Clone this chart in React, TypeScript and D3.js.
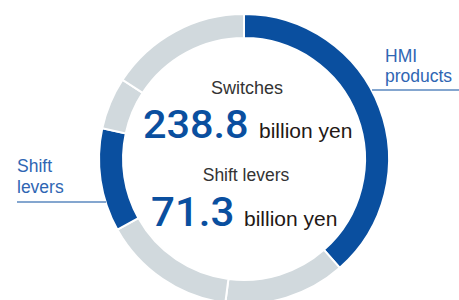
import * as d3 from "d3";

// segments clockwise from 12 o'clock
const segments = ["HMI products", "Other A", "Other B", "Shift levers", "Other C", "Other D"];
const values = [238.8, 84, 92, 71.3, 36, 98];
const highlighted = ["HMI products", "Shift levers"];

const centerTitles = ["Switches", "Shift levers"];
const centerValues = ["238.8", "71.3"];
const unit = "billion yen";

const BLUE = "#0a4f9f";
const GRAY = "#d1d9dd";
const LABEL_BLUE = "#2f66b3";
const FONT = "'Liberation Sans', Arial, Helvetica, sans-serif";
const NUM_FONT = "Roboto, 'Liberation Sans', Arial, sans-serif";

export default function App() {
  const width = 459;
  const height = 300;
  const cx = 244;
  const cy = 159;
  const outerR = 145;
  const innerR = 121;

  const pie = d3
    .pie<number>()
    .sort(null)
    .value((d) => d);
  const arcs = pie(values);
  const arc = d3
    .arc<d3.PieArcDatum<number>>()
    .innerRadius(innerR)
    .outerRadius(outerR);

  return (
    <svg
      width={width}
      height={height}
      style={{ position: "absolute", left: 0, top: 0, background: "#fff" }}
      fontFamily={FONT}
    >
      <g transform={`translate(${cx}, ${cy})`}>
        {arcs.map((a, i) => (
          <path
            key={segments[i]}
            d={arc(a) as string}
            fill={highlighted.includes(segments[i]) ? BLUE : GRAY}
            stroke="#fff"
            strokeWidth={2}
          />
        ))}
      </g>

      {/* leader lines */}
      <line x1={372} y1={90} x2={459} y2={90} stroke={BLUE} strokeWidth={1.2} />
      <line x1={17} y1={202} x2={106} y2={202} stroke={BLUE} strokeWidth={1.2} />

      {/* outside labels */}
      <text x={385} y={62} fontSize={17.5} fill={LABEL_BLUE}>HMI</text>
      <text x={385} y={82} fontSize={17.5} fill={LABEL_BLUE}>products</text>
      <text x={17} y={172} fontSize={17.5} fill={LABEL_BLUE}>Shift</text>
      <text x={17} y={193} fontSize={17.5} fill={LABEL_BLUE}>levers</text>

      {/* center texts */}
      <text x={247} y={94} fontSize={18} fill="#333" textAnchor="middle">
        {centerTitles[0]}
      </text>
      <text
        transform="translate(143, 138) scale(1.09, 1)"
        fontSize={38}
        fontWeight={500}
        fontFamily={NUM_FONT}
        fill={BLUE}
      >
        {centerValues[0]}
      </text>
      <text x={259} y={138} fontSize={21} fill="#231815">
        {unit}
      </text>

      <text x={246} y={181} fontSize={17.5} fill="#333" textAnchor="middle">
        {centerTitles[1]}
      </text>
      <text
        transform="translate(151, 226) scale(1.04, 1)"
        fontSize={40.5}
        fontWeight={500}
        fontFamily={NUM_FONT}
        fill={BLUE}
      >
        {centerValues[1]}
      </text>
      <text x={244} y={226} fontSize={21} fill="#231815">
        {unit}
      </text>
    </svg>
  );
}
